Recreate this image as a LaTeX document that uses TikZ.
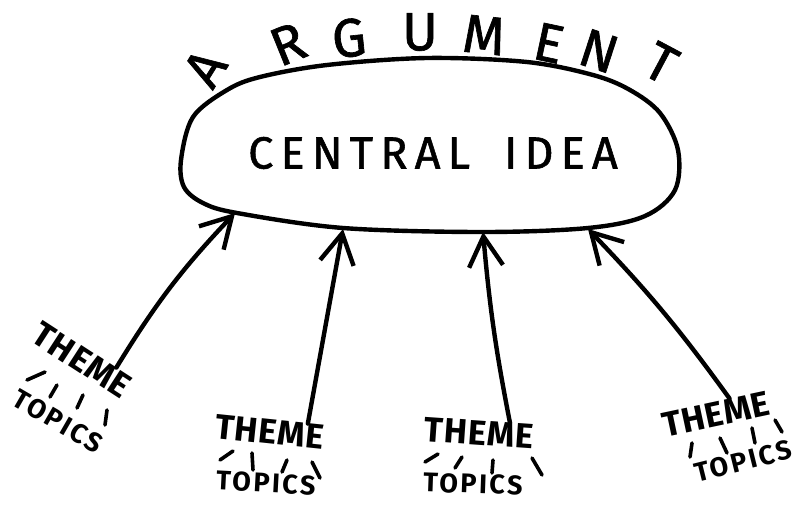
\documentclass[tikz,border=0pt]{standalone}
\usepackage{fontspec}
\setmainfont{Fira Sans}
\usetikzlibrary{arrows.meta}
\usetikzlibrary{calc}

\tikzset{
  marker/.style={line width=4.4pt, line cap=round, line join=round},
  themearrow/.style={marker, -{Straight Barb[length=30pt,width=34pt]}},
  theme/.style={font=\bfseries\fontsize{35}{35}\selectfont\addfontfeature{LetterSpace=2}, inner sep=0pt},
  topics/.style={font=\bfseries\fontsize{27}{27}\selectfont\addfontfeature{LetterSpace=9}, inner sep=0pt},
  tickmark/.style={marker, line width=3.6pt},
  letter/.style={font=\fontsize{54}{54}\selectfont\addfontfeature{FakeBold=1.2}, inner sep=0pt}
}

\begin{document}
\begin{tikzpicture}[x=1pt,y=-1pt]
  \useasboundingbox (0,0) rectangle (797,504);

  % letters of ARGUMENT along the top
  \foreach \ch/\xx/\yy/\rr [count=\i] in {A/205/68/58, R/288/44/22, G/349/38/6, U/420/32/0, M/484/35/-6, E/549/43/-12, N/599/51/-18, T/661/63/-28}{
    \node[letter, rotate=\rr] (arg\i) at (\xx,\yy) {\ch};
  }

  % the central idea and its oval
  \node[font={\fontsize{45}{45}\selectfont\addfontfeature{LetterSpace=16,FakeBold=1.2}}] (central) at (433,153) {CENTRAL\kern34pt IDEA};
  \draw[marker] plot[smooth cycle, tension=0.55] coordinates {(181,160) (193,117) (227,90) (260,77) (327,65) (427,58) (527,62) (593,75) (630,90) (660,113) (678,150) (675,190) (645,216) (588,228) (483,232) (343,228) (237,213) (203,203) (184,187)};
  \coordinate (tip1) at (235,213);
  \coordinate (tip2) at (343,229);
  \coordinate (tip3) at (483,232);
  \coordinate (tip4) at (588,229);

  % themes
  \node[theme, rotate=-33] (theme1) at (82,360) {THEME};
  \node[topics, rotate=-30] (topics1) at (58,421) {TOPICS};
  \node[theme, rotate=-6] (theme2) at (270,432) {THEME};
  \node[topics, rotate=-3] (topics2) at (266,483) {TOPICS};
  \node[theme, rotate=-4] (theme3) at (479,433) {THEME};
  \node[topics, rotate=-2] (topics3) at (473,484) {TOPICS};
  \node[theme, rotate=12] (theme4) at (716,414) {THEME};
  \node[topics, rotate=14] (topics4) at (743,461) {TOPICS};

  % arrows up to the oval
  \draw[themearrow] ($(theme1.north)!0.6!(theme1.north east)$) to[bend left=6] (tip1);
  \draw[themearrow] ($(theme2.north)!0.67!(theme2.north east)$) -- (tip2);
  \draw[themearrow] ($(theme3.north)!0.55!(theme3.north east)$) to[bend left=3] (tip3);
  \draw[themearrow] ($(theme4.north)!0.3!(theme4.north east)$) to[bend right=4] (tip4);

  % little strokes from theme to topics
  \foreach \ax/\ay/\bx/\by in {27/380/45/372, 50/397/57/385, 77/408/83/395, 105/425/107/410,
                              220/460/233/451, 252/453/253/470, 282/472/287/460, 312/462/320/478,
                              425/462/438/454, 455/468/462/457, 492/473/493/460, 532/458/542/475,
                              692/443/690/457, 720/438/727/453, 752/428/755/443, 775/420/782/432}{
    \draw[tickmark] (\ax,\ay) -- (\bx,\by);
  }
\end{tikzpicture}
\end{document}
